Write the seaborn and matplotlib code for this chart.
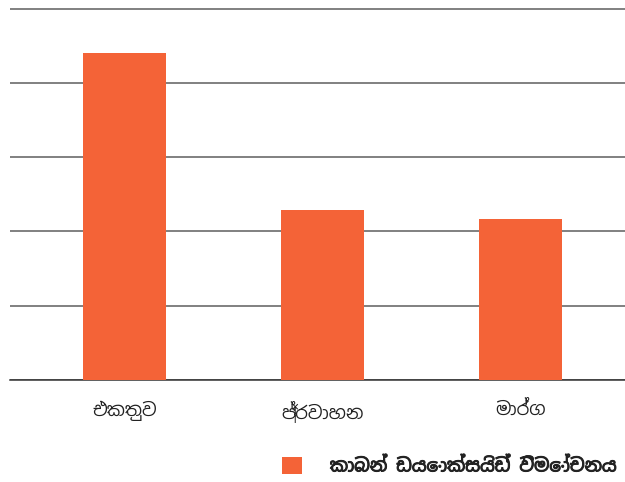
import glob
import matplotlib
matplotlib.use("Agg")
import matplotlib.pyplot as plt
from matplotlib import font_manager
import matplotlib.patheffects as pe
import pandas as pd
import seaborn as sns

# Data
categories = ["එකතුව", "ප්‍රවාහන", "මාර්ග"]
values = [44.0, 22.9, 21.7]
series_name = "කාබන් ඩයොක්සයිඩ් විමෝචනය"
bar_color = "#F46337"


def find_font(pattern):
    hits = sorted(glob.glob("/usr/share/fonts/**/" + pattern, recursive=True))
    return hits[0] if hits else None


sinhala_path = find_font("NotoSansSinhala[[]*.ttf") or find_font("NotoSansSinhala*.ttf")
if sinhala_path:
    fp_tick = font_manager.FontProperties(fname=sinhala_path, size=13)
    fp_leg = font_manager.FontProperties(fname=sinhala_path, size=13.0)
else:
    fp_tick = font_manager.FontProperties(size=13)
    fp_leg = font_manager.FontProperties(size=13.0, weight="bold")

df = pd.DataFrame({"category": categories, "value": values, "series": series_name})

sns.set_theme(style="white")
fig = plt.figure(figsize=(6.25, 4.82), dpi=100)
W, H = 625, 482
# axes spans from x=10 px to the right edge, from the top to y=380 px
ax = fig.add_axes([10 / W, (H - 380) / H, (W - 10) / W, 380 / H])

sns.barplot(data=df, x="category", y="value", hue="series", palette=[bar_color],
            width=0.42, saturation=1, linewidth=0, ax=ax, zorder=3)

ax.set_xlim((10 - 124.5) / 198, (625 - 124.5) / 198)
ax.set_ylim(0, 380 / 7.426)
ax.set_yticks([0, 10, 20, 30, 40, 50])
ax.yaxis.grid(True, color="#5e5e5e", linewidth=1.1, zorder=0)
ax.set_axisbelow(True)
ax.tick_params(axis="y", left=False, labelleft=False)
ax.tick_params(axis="x", bottom=False, pad=9, colors="#222222")
ax.set_xticks(range(len(categories)))
ax.set_xticklabels(categories, fontproperties=fp_tick, color="#222222")
ax.set_xlabel("")
ax.set_ylabel("")
for side in ("left", "right", "top"):
    ax.spines[side].set_visible(False)
ax.spines["bottom"].set_color("#333333")
ax.spines["bottom"].set_linewidth(1.1)
ax.spines["bottom"].set_zorder(2)

leg = ax.legend(loc="center left", bbox_to_anchor=(282 / W, (H - 466) / H),
                bbox_transform=fig.transFigure, frameon=False, prop=fp_leg,
                handlelength=1.1, handleheight=1.1, handletextpad=1.55,
                borderpad=0, borderaxespad=0, labelcolor="#222222")
for t in leg.get_texts():
    t.set_path_effects([pe.withStroke(linewidth=0.7, foreground="#222222")])

fig.savefig("out.png", dpi=100)
